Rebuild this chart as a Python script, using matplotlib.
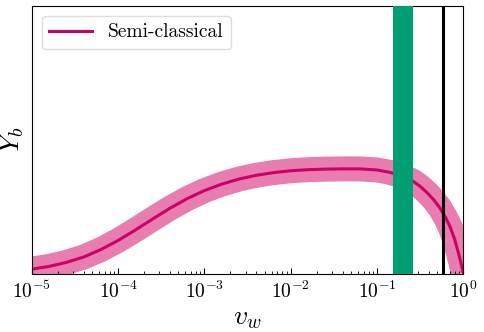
import numpy as np
import matplotlib.pyplot as plt

plt.rcParams['font.family'] = 'serif'
plt.rcParams['font.serif'] = ['cmr10']
plt.rcParams['mathtext.fontset'] = 'cm'
plt.rcParams['axes.formatter.use_mathtext'] = True

# curve (log10 v_w, Y_b in arbitrary units)
log_vw = [-5.0, -4.8, -4.6, -4.4, -4.2, -4.0, -3.8, -3.6, -3.4, -3.2,
          -3.0, -2.8, -2.6, -2.4, -2.2, -2.0, -1.8, -1.6, -1.4, -1.2,
          -1.0, -0.85, -0.7, -0.577, -0.5, -0.421, -0.34, -0.267, -0.2,
          -0.15, -0.1, -0.054, -0.025, 0.0]
yb = [0.018, 0.028, 0.043, 0.063, 0.091, 0.125, 0.164, 0.205, 0.245, 0.281,
      0.311, 0.335, 0.354, 0.368, 0.378, 0.385, 0.389, 0.391, 0.392, 0.392,
      0.388, 0.379, 0.364, 0.345, 0.327, 0.304, 0.276, 0.245, 0.208,
      0.174, 0.130, 0.077, 0.040, 0.004]

green_band = (0.155, 0.26)
v_sound = 1 / np.sqrt(3)

vw = 10.0 ** np.array(log_vw)

fig = plt.figure(figsize=(4.84, 3.32), dpi=100)
ax = fig.add_axes([0.066, 0.175, 0.891, 0.807])

# uncertainty band drawn as a wide stroke
ax.plot(vw, yb, color='#e87db0', lw=18, solid_capstyle='butt',
        solid_joinstyle='round', zorder=1)
ax.plot(vw, yb, color='#cc0066', lw=2.2, label='Semi-classical', zorder=2)
ax.axvspan(green_band[0], green_band[1], color='#009e73', lw=0, zorder=3)
ax.axvline(v_sound, color='k', lw=2.2, zorder=4)

ax.set_xscale('log')
ax.set_xlim(1e-5, 1)
ax.set_ylim(0, 1)
ax.set_yticks([])
ax.tick_params(axis='x', which='both', direction='in', labelsize=14, pad=5)
ax.tick_params(axis='x', which='major', length=4)
ax.tick_params(axis='x', which='minor', length=2)
ax.set_xlabel(r'$v_w$', fontsize=20, labelpad=2)
ax.set_ylabel(r'$Y_b$', fontsize=20, labelpad=4)

ax.legend(loc='upper left', fontsize=14, framealpha=1, edgecolor='#dddddd',
          handlelength=2.2)

fig.savefig('out.png', dpi=100)
